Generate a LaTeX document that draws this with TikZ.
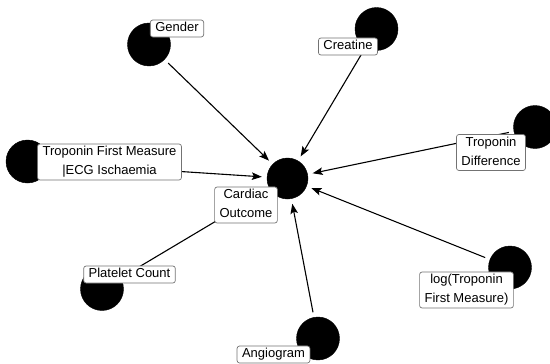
\documentclass[tikz,border=0pt]{standalone}
\usepackage{fontspec}
\setmainfont{Liberation Sans}
\usepackage{tikz}
\usetikzlibrary{arrows.meta,positioning}
\newcommand{\lstrut}{\rule[-2.9pt]{0pt}{12.3pt}}

\begin{document}
\begin{tikzpicture}
[x=1pt,y=-1pt,
bullet/.style={circle,draw=black,fill=black,inner sep=0pt,minimum size=43pt},
lbl/.style={draw=black!55,fill=white,rounded corners=2.5pt,line width=0.7pt,inner xsep=5pt,inner ysep=2.35pt,align=center,font=\fontsize{13}{19}\selectfont},
arr/.style={-{Stealth[length=10pt,width=7.5pt,inset=2pt]},line width=1.1pt,shorten >=5pt,shorten <=5pt}]
\useasboundingbox (0,0) rectangle (550,364);

% variables
\node[bullet,minimum size=41pt] (out) at (287.5,178.5) {};
\node[bullet] (gen) at (149,44.5) {};
\node[bullet] (cre) at (376.5,29) {};
\node[bullet] (tdf) at (535,127) {};
\node[bullet] (ltf) at (510,267.5) {};
\node[bullet] (ang) at (318,338.5) {};
\node[bullet] (plt) at (102,289) {};
\node[bullet] (tfm) at (27.5,161.5) {};

% edges
\draw [arr] (gen) -- (out);
\draw [arr] (cre) -- (out);
\draw [arr] (tdf) -- (out);
\draw [arr] (ltf) -- (out);
\draw [arr] (ang) -- (out);
\draw [arr] (plt) -- (out);
\draw [arr] (tfm) -- (out);

% labels
\node[lbl] (outl) at (246,205) {\lstrut Cardiac\\\lstrut Outcome};
\node[lbl] (genl) at (177,28.5) {\lstrut Gender};
\node[lbl] (crel) at (348,46.5) {\lstrut Creatine};
\node[lbl] (tdfl) at (491,152.5) {\lstrut Troponin\\\lstrut Difference};
\node[lbl] (ltfl) at (466.5,290) {\lstrut log(Troponin\\\lstrut First Measure)};
\node[lbl] (angl) at (273.5,354.5) {\lstrut Angiogram};
\node[lbl] (pltl) at (129.5,274.5) {\lstrut Platelet Count};
\node[lbl] (tfml) at (109.5,162) {\lstrut Troponin First Measure\\\lstrut |ECG Ischaemia};
\end{tikzpicture}
\end{document}
